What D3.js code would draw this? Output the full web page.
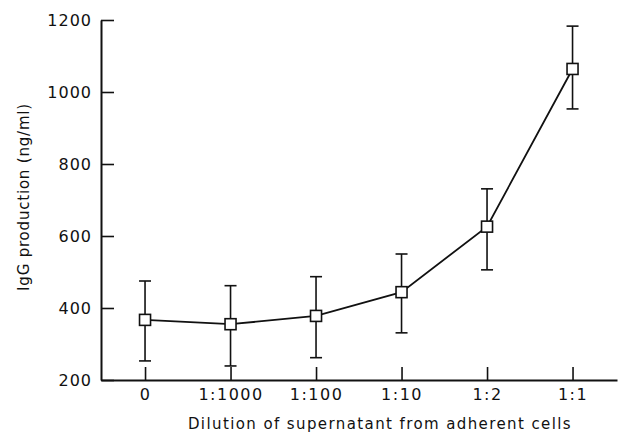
<!DOCTYPE html>
<html>
<head>
<meta charset="utf-8">
<script src="https://cdn.jsdelivr.net/npm/d3@7"></script>
<style>
  body { margin: 0; background: #fff; }
  svg text { font-family: 'DejaVu Sans', sans-serif; fill: #111; }
</style>
</head>
<body>
<svg id="chart" width="619" height="435"></svg>
<script>
'use strict';

// Data
var categories = ['0', '1:1000', '1:100', '1:10', '1:2', '1:1'];
var means = [367, 355, 378, 444, 626, 1064];
var upper = [475, 462, 487, 550, 731, 1183];
var lower = [253, 239, 262, 331, 506, 953];
var yTicks = [200, 400, 600, 800, 1000, 1200];

var svg = d3.select('#chart');

var x = d3.scaleLinear().domain([-0.515, 5.52]).range([101, 617]);
var y = d3.scaleLinear().domain([200, 1200]).range([380, 20]);

var TICK = 13;

// y axis
var yAxis = d3.axisLeft(y)
    .tickValues(yTicks)
    .tickFormat(d3.format('d'))
    .tickSizeInner(-TICK)
    .tickSizeOuter(0)
    .tickPadding(9);
var gy = svg.append('g')
    .attr('transform', 'translate(101,0)')
    .call(yAxis);
gy.select('.domain').attr('stroke', '#111').attr('stroke-width', 2);
gy.selectAll('.tick line').attr('stroke', '#111').attr('stroke-width', 1.6);
gy.selectAll('.tick text')
    .attr('x', -9)
    .style('font-size', '16px')
    .style('letter-spacing', '1px');

// x axis
var xAxis = d3.axisBottom(x)
    .tickValues(d3.range(categories.length))
    .tickFormat(function(i) { return categories[i]; })
    .tickSizeInner(-TICK)
    .tickSizeOuter(0)
    .tickPadding(10);
var gx = svg.append('g')
    .attr('transform', 'translate(0,380)')
    .call(xAxis);
gx.select('.domain').attr('stroke', '#111').attr('stroke-width', 2);
gx.selectAll('.tick line').attr('stroke', '#111').attr('stroke-width', 1.6);
gx.selectAll('.tick text')
    .attr('y', 9)
    .style('font-size', '16px')
    .style('letter-spacing', '1.5px');

// axis titles
svg.append('text')
    .attr('x', 380)
    .attr('y', 429)
    .attr('text-anchor', 'middle')
    .style('font-size', '15px')
    .style('letter-spacing', '1.4px')
    .text('Dilution of supernatant from adherent cells');

svg.append('text')
    .attr('transform', 'translate(29,197) rotate(-90)')
    .attr('text-anchor', 'middle')
    .style('font-size', '15px')
    .style('letter-spacing', '0.8px')
    .text('IgG production (ng/ml)');

// error bars
var CAP = 6;
var bars = svg.append('g').selectAll('g')
    .data(categories)
    .enter().append('g');
bars.append('line')
    .attr('x1', function(d, i) { return x(i); })
    .attr('x2', function(d, i) { return x(i); })
    .attr('y1', function(d, i) { return y(upper[i]); })
    .attr('y2', function(d, i) { return y(lower[i]); })
    .attr('stroke', '#111').attr('stroke-width', 1.6);
bars.append('line')
    .attr('x1', function(d, i) { return x(i) - CAP; })
    .attr('x2', function(d, i) { return x(i) + CAP; })
    .attr('y1', function(d, i) { return y(upper[i]); })
    .attr('y2', function(d, i) { return y(upper[i]); })
    .attr('stroke', '#111').attr('stroke-width', 1.6);
bars.append('line')
    .attr('x1', function(d, i) { return x(i) - CAP; })
    .attr('x2', function(d, i) { return x(i) + CAP; })
    .attr('y1', function(d, i) { return y(lower[i]); })
    .attr('y2', function(d, i) { return y(lower[i]); })
    .attr('stroke', '#111').attr('stroke-width', 1.6);

// line
var line = d3.line()
    .x(function(d, i) { return x(i); })
    .y(function(d) { return y(d); });
svg.append('path')
    .datum(means)
    .attr('d', line)
    .attr('fill', 'none')
    .attr('stroke', '#111')
    .attr('stroke-width', 1.8);

// square markers
var S = 11;
svg.append('g').selectAll('rect')
    .data(means)
    .enter().append('rect')
    .attr('x', function(d, i) { return x(i) - S / 2; })
    .attr('y', function(d) { return y(d) - S / 2; })
    .attr('width', S)
    .attr('height', S)
    .attr('fill', '#fff')
    .attr('stroke', '#111')
    .attr('stroke-width', 1.6);
</script>
</body>
</html>
